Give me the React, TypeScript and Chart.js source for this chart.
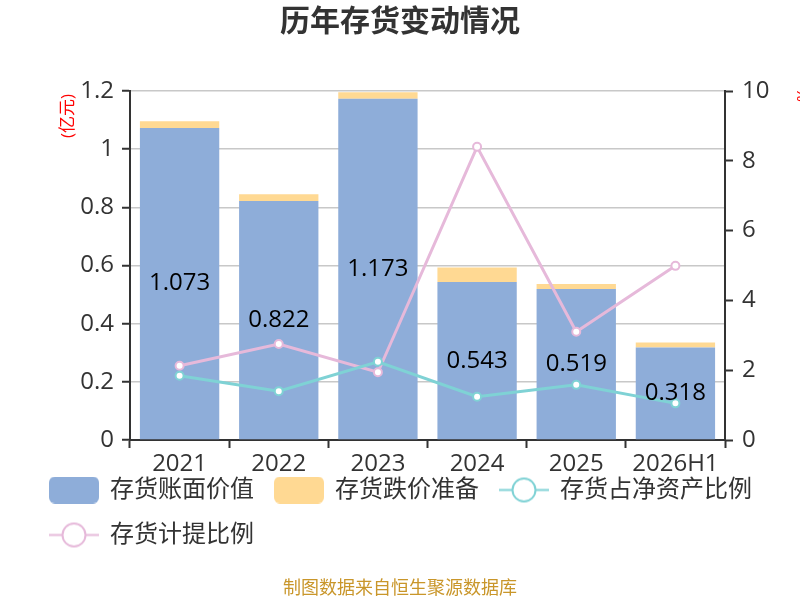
import { useEffect, useRef } from "react";
import { Chart, registerables } from "chart.js";

Chart.register(...registerables);

const years = ["2021", "2022", "2023", "2024", "2025", "2026H1"];
const bookValue = [1.073, 0.822, 1.173, 0.543, 0.519, 0.318];
const reserve = [0.023, 0.023, 0.023, 0.05, 0.017, 0.017];
const shareOfNetAssets = [1.84, 1.4, 2.24, 1.24, 1.58, 1.05];
const provisionRatio = [2.13, 2.75, 1.94, 8.4, 3.1, 4.99];
const leftTicks = [0, 0.2, 0.4, 0.6, 0.8, 1, 1.2];
const rightTicks = [0, 2, 4, 6, 8, 10];

const FONT = '"Open Sans", "Noto Sans CJK SC", sans-serif';
const BLUE = "#8eadd9";
const YELLOW = "#ffd993";
const TEAL = "#7fd2d5";
const PINK = "#e6b9da";

// little canvases used as legend symbols
const boxIcon = (color: string) => {
  const c = document.createElement("canvas");
  c.width = 50;
  c.height = 27;
  const g = c.getContext("2d")!;
  g.fillStyle = color;
  g.beginPath();
  g.roundRect(0, 0, 50, 27, 6);
  g.fill();
  return c;
};

const lineIcon = (color: string) => {
  const c = document.createElement("canvas");
  c.width = 50;
  c.height = 27;
  const g = c.getContext("2d")!;
  g.strokeStyle = color;
  g.lineWidth = 2;
  g.beginPath();
  g.moveTo(0, 13.5);
  g.lineTo(50, 13.5);
  g.stroke();
  g.fillStyle = "#fff";
  g.beginPath();
  g.arc(25, 13.5, 11.5, 0, Math.PI * 2);
  g.fill();
  g.stroke();
  return c;
};

const extras = {
  id: "extras",
  // the legend sits tight under the year labels, overlapping the x axis box
  afterLayout(chart: any) {
    if (chart.legend) {
      chart.legend.top -= 23;
      chart.legend.bottom -= 23;
    }
  },
  afterDatasetsDraw(chart: any) {
    const { ctx } = chart;
    // values in the middle of the blue bars
    const meta = chart.getDatasetMeta(0);
    ctx.save();
    ctx.font = `24px ${FONT}`;
    ctx.fillStyle = "#000";
    ctx.textAlign = "center";
    ctx.textBaseline = "middle";
    meta.data.forEach((bar: any, i: number) => {
      ctx.fillText(String(bookValue[i]), bar.x, (bar.y + bar.base) / 2);
    });
    ctx.restore();
  },
  afterDraw(chart: any) {
    const { ctx } = chart;
    ctx.save();
    ctx.textAlign = "center";
    ctx.textBaseline = "middle";
    ctx.fillStyle = "#333";
    ctx.font = `bold 30px ${FONT}`;
    ctx.fillText("历年存货变动情况", 400, 22);

    ctx.fillStyle = "#c9962a";
    ctx.font = `18px ${FONT}`;
    ctx.fillText("制图数据来自恒生聚源数据库", 400, 589);

    ctx.fillStyle = "#f00";
    ctx.font = `17px ${FONT}`;
    ctx.translate(68, 116);
    ctx.rotate(-Math.PI / 2);
    ctx.fillText("(亿元)", 0, 0);
    ctx.restore();

    ctx.save();
    ctx.fillStyle = "#f00";
    ctx.font = `17px ${FONT}`;
    ctx.textAlign = "center";
    ctx.textBaseline = "middle";
    ctx.translate(802, 95);
    ctx.rotate(Math.PI / 2);
    ctx.fillText("%", 0, 0);
    ctx.restore();
  },
};

const App = () => {
  const canvasRef = useRef<HTMLCanvasElement>(null);

  useEffect(() => {
    if (!canvasRef.current) return;
    document.body.style.margin = "0";

    const icons = [boxIcon(BLUE), boxIcon(YELLOW), lineIcon(TEAL), lineIcon(PINK)];

    const chart = new Chart(canvasRef.current, {
      type: "bar",
      data: {
        labels: years,
        datasets: [
          {
            label: "存货账面价值",
            data: bookValue,
            backgroundColor: BLUE,
            yAxisID: "y",
            order: 1,
          },
          {
            label: "存货跌价准备",
            data: reserve,
            backgroundColor: YELLOW,
            yAxisID: "y",
            order: 1,
          },
          {
            type: "line",
            label: "存货占净资产比例",
            data: shareOfNetAssets,
            borderColor: TEAL,
            borderWidth: 3,
            pointRadius: 4,
            pointBorderWidth: 2,
            pointBackgroundColor: "#fff",
            pointBorderColor: TEAL,
            yAxisID: "y1",
            order: 0,
          },
          {
            type: "line",
            label: "存货计提比例",
            data: provisionRatio,
            borderColor: PINK,
            borderWidth: 3,
            pointRadius: 4,
            pointBorderWidth: 2,
            pointBackgroundColor: "#fff",
            pointBorderColor: PINK,
            yAxisID: "y1",
            order: 0,
          },
        ] as any,
      },
      options: {
        animation: false,
        responsive: true,
        maintainAspectRatio: false,
        layout: { padding: { left: 29, top: 91, bottom: 20 } },
        datasets: { bar: { barPercentage: 0.8, categoryPercentage: 1 } },
        plugins: {
          title: { display: false },
          tooltip: { enabled: false },
          legend: {
            position: "bottom",
            align: "start",
            labels: {
              usePointStyle: true,
              pointStyleWidth: 48,
              padding: 21,
              color: "#333",
              font: { family: FONT, size: 24 },
              generateLabels: (c: any) =>
                c.data.datasets.map((ds: any, i: number) => ({
                  text: ds.label,
                  fillStyle: "transparent",
                  strokeStyle: "transparent",
                  lineWidth: 0,
                  pointStyle: icons[i],
                  hidden: false,
                  datasetIndex: i,
                  fontColor: "#333",
                })),
            },
          },
        },
        scales: {
          x: {
            stacked: true,
            afterFit: (s: any) => {
              s.height = 40;
            },
            grid: {
              offset: true,
              drawOnChartArea: false,
              tickColor: "#333",
              tickLength: 8,
              tickWidth: 2,
            },
            border: { color: "#333", width: 2 },
            ticks: {
              color: "#333",
              padding: 2,
              font: { family: FONT, size: 24 },
              maxRotation: 0,
              autoSkip: false,
            },
          },
          y: {
            stacked: true,
            min: 0,
            max: 1.2,
            afterFit: (s: any) => {
              s.width = 101;
            },
            afterBuildTicks: (s: any) => {
              s.ticks = leftTicks.map((v) => ({ value: v }));
            },
            grid: {
              color: "#c8c8c8",
              lineWidth: 1.5,
              tickColor: "#333",
              tickLength: 8,
              tickWidth: 2,
            },
            border: { color: "#333", width: 2 },
            ticks: {
              color: "#333",
              padding: 8,
              font: { family: FONT, size: 24 },
              callback: (v: any) => String(Number(v)),
            },
          },
          y1: {
            position: "right",
            min: 0,
            max: 10,
            afterFit: (s: any) => {
              s.width = 75;
            },
            afterBuildTicks: (s: any) => {
              s.ticks = rightTicks.map((v) => ({ value: v }));
            },
            grid: {
              drawOnChartArea: false,
              tickColor: "#333",
              tickLength: 8,
              tickWidth: 2,
            },
            border: { color: "#333", width: 2 },
            ticks: {
              color: "#333",
              padding: 9,
              font: { family: FONT, size: 24 },
            },
          },
        },
      },
      plugins: [extras],
    });

    return () => {
      chart.destroy();
    };
  }, []);

  return (
    <div style={{ width: 800, height: 600, position: "relative" }}>
      <canvas ref={canvasRef}></canvas>
    </div>
  );
};

export default App;
